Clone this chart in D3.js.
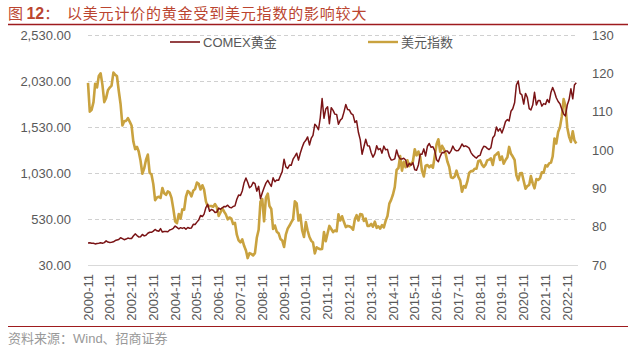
<!DOCTYPE html>
<html><head><meta charset="utf-8">
<script src="https://cdn.jsdelivr.net/npm/d3@7"></script>
<style>
html,body{margin:0;padding:0;background:#fff;}
svg{display:block;}
text{font-family:"Liberation Sans",Arial,"Noto Sans CJK SC",sans-serif;}
</style></head>
<body><svg id="c" width="640" height="346"></svg>
<script>
// ---- data (monthly, starting 2000-11) ----
const startYear = 2000, startMonth = 11;
const seriesNames = ["COMEX黄金", "美元指数"];
const goldValues = [
  270, 272,
  266, 267, 259, 264, 267, 271, 266, 273, 292, 279, 275, 278,
  282, 296, 302, 308, 326, 316, 305, 312, 323, 317, 318, 345,
  368, 350, 335, 338, 362, 346, 354, 375, 386, 385, 398, 416,
  402, 397, 425, 388, 394, 395, 391, 410, 417, 429, 453, 438,
  423, 436, 428, 436, 418, 437, 430, 433, 472, 470, 496, 518,
  568, 557, 583, 655, 690, 614, 633, 625, 600, 605, 648, 636,
  652, 667, 664, 680, 658, 651, 666, 673, 745, 790, 785, 834,
  925, 975, 930, 870, 886, 928, 915, 833, 885, 750, 815, 870,
  920, 950, 918, 885, 978, 935, 955, 950, 1000, 1045, 1180, 1097,
  1080, 1117, 1114, 1180, 1210, 1245, 1170, 1248, 1310, 1360, 1385, 1422,
  1335, 1410, 1440, 1560, 1537, 1500, 1630, 1840, 1625, 1725, 1750, 1566,
  1740, 1710, 1670, 1665, 1560, 1605, 1622, 1692, 1775, 1720, 1714, 1675,
  1662, 1580, 1597, 1470, 1393, 1234, 1312, 1396, 1327, 1323, 1250, 1202,
  1240, 1326, 1284, 1296, 1246, 1322, 1282, 1287, 1210, 1172, 1175, 1184,
  1280, 1213, 1183, 1183, 1190, 1172, 1095, 1135, 1115, 1142, 1065, 1061,
  1117, 1235, 1235, 1292, 1215, 1321, 1351, 1309, 1316, 1273, 1174, 1152,
  1211, 1253, 1250, 1269, 1269, 1242, 1270, 1322, 1283, 1271, 1275, 1303,
  1345, 1318, 1325, 1315, 1300, 1252, 1224, 1206, 1192, 1215, 1222, 1282,
  1321, 1316, 1298, 1285, 1305, 1413, 1437, 1529, 1485, 1513, 1464, 1519,
  1589, 1610, 1596, 1701, 1728, 1793, 1986, 2030, 1895, 1880, 1780, 1895,
  1850, 1729, 1715, 1768, 1907, 1770, 1817, 1818, 1757, 1784, 1776, 1829,
  1796, 1909, 1960, 1911, 1848, 1807, 1782, 1726, 1672, 1650, 1768, 1826,
  1945, 1836, 1986, 2010
];
const dxyValues = [
  117.5, 110.0,
  110.5, 112.5, 117.3, 116.3, 119.3, 120.0, 117.0, 112.5, 113.6, 115.6, 116.3, 116.8,
  120.2, 119.6, 119.3, 115.4, 112.0, 106.4, 107.5, 107.6, 108.3, 107.4, 106.4, 102.2,
  100.2, 100.8, 99.6, 97.2, 93.8, 95.2, 97.4, 98.8, 94.0, 93.7, 91.1, 86.9,
  87.6, 87.8, 87.5, 90.1, 88.7, 88.3, 89.2, 88.9, 87.5, 84.7, 81.4, 80.9,
  83.3, 82.1, 84.5, 84.4, 87.8, 89.3, 88.9, 87.9, 89.4, 89.8, 91.5, 91.2,
  89.7, 90.8, 89.7, 86.6, 85.3, 85.4, 85.4, 85.2, 85.9, 85.1, 82.8, 83.7,
  84.8, 83.9, 83.2, 81.9, 82.4, 82.1, 80.7, 81.0, 77.9, 76.4, 75.9, 76.7,
  75.0, 73.8, 71.8, 73.1, 72.9, 72.5, 73.1, 77.1, 79.2, 86.5, 87.2, 81.4,
  87.6, 88.6, 85.4, 84.6, 79.4, 80.3, 78.7, 78.3, 76.8, 76.4, 74.7, 77.9,
  79.5, 80.3, 81.1, 81.9, 86.6, 86.1, 81.6, 83.1, 79.0, 77.3, 81.2, 79.0,
  77.3, 76.3, 75.9, 73.0, 74.6, 74.3, 74.1, 74.2, 78.6, 76.2, 78.3, 80.2,
  79.4, 78.6, 79.0, 78.8, 83.2, 81.6, 82.7, 81.2, 79.9, 80.2, 80.1, 79.8,
  79.2, 82.0, 83.0, 81.6, 83.3, 83.2, 81.5, 82.1, 80.2, 80.2, 80.7, 80.0,
  81.3, 79.7, 80.1, 79.5, 80.4, 79.8, 81.5, 82.8, 86.0, 87.0, 88.4, 90.3,
  94.8, 95.3, 98.4, 94.6, 96.9, 95.5, 97.3, 95.8, 96.4, 97.0, 100.2, 98.6,
  99.6, 98.2, 94.6, 93.1, 95.9, 96.1, 95.5, 96.0, 95.4, 98.4, 101.5, 102.8,
  99.5, 101.1, 100.3, 99.1, 97.0, 95.6, 92.9, 92.7, 93.1, 94.6, 93.0, 92.1,
  89.1, 90.6, 90.2, 91.8, 94.0, 94.5, 94.5, 95.1, 95.1, 97.1, 97.3, 96.2,
  95.6, 96.2, 97.3, 97.5, 97.8, 96.1, 98.5, 98.9, 99.4, 97.4, 98.3, 96.4,
  97.4, 98.1, 100.8, 99.0, 98.3, 97.4, 93.4, 92.1, 93.9, 94.0, 91.9, 89.9,
  90.6, 90.9, 93.2, 91.3, 90.0, 92.4, 92.2, 92.6, 94.2, 94.1, 96.0, 95.7,
  96.5, 96.7, 98.3, 103.0, 101.7, 104.7, 105.9, 108.7, 113.3, 111.5, 105.9, 103.5,
  102.1, 104.9, 102.5, 101.7
];
const xTickLabels = ["2000-11","2001-11","2002-11","2003-11","2004-11","2005-11","2006-11","2007-11","2008-11","2009-11","2010-11","2011-11","2012-11","2013-11","2014-11","2015-11","2016-11","2017-11","2018-11","2019-11","2020-11","2021-11","2022-11"];
const leftTicks = [30, 530, 1030, 1530, 2030, 2530];
const rightTicks = [70, 80, 90, 100, 110, 120, 130];

// ---- layout ----
const svg = d3.select("#c");
const L = 88, R = 578, T = 35, B = 265;
const goldColor = "#7a1416", dxyColor = "#c9a23f", titleColor = "#bb4530";

const dates = goldValues.map((_, i) => new Date(startYear, startMonth - 1 + i, 1));
const x = d3.scaleTime()
  .domain([new Date(2000, 10, 1), new Date(2023, 3, 30)])
  .range([L, R]);
const yL = d3.scaleLinear().domain([30, 2530]).range([B, T]);
const yR = d3.scaleLinear().domain([70, 130]).range([B, T]);

svg.append("rect").attr("width", 640).attr("height", 346).attr("fill", "#fff");

// title
const title = svg.append("text").attr("x", 8).attr("y", 19)
  .attr("fill", titleColor).style("font-size", "15px");
title.append("tspan").style("font-family", "'Noto Sans CJK SC'").text("图 ");
title.append("tspan").style("font-weight", "bold").style("font-size", "16px").text("12");
title.append("tspan").style("font-family", "'Noto Sans CJK SC'").text("：");
title.append("tspan").attr("x", 67).style("font-family", "'Noto Sans CJK SC'")
  .style("letter-spacing", "0.8px").text("以美元计价的黄金受到美元指数的影响较大");
svg.append("line").attr("x1", 8).attr("x2", 628).attr("y1", 24.5).attr("y2", 24.5)
  .attr("stroke", "#9e1b1e").attr("stroke-width", 1.5);

// gridlines
const grid = svg.append("g");
leftTicks.forEach(v => {
  grid.append("line").attr("x1", L).attr("x2", R)
    .attr("y1", Math.round(yL(v)) + 0.5).attr("y2", Math.round(yL(v)) + 0.5)
    .attr("stroke", v === 30 ? "#d9d9d9" : "#d0d0d0")
    .attr("stroke-dasharray", v === 30 ? null : "4,3");
});

// axes (labels only)
const axL = svg.append("g").attr("transform", `translate(${L},0)`)
  .call(d3.axisLeft(yL).tickValues(leftTicks).tickSize(0).tickPadding(17)
    .tickFormat(d3.format(",.2f")));
const axR = svg.append("g").attr("transform", `translate(${R},0)`)
  .call(d3.axisRight(yR).tickValues(rightTicks).tickSize(0).tickPadding(14));
[axL, axR].forEach(a => {
  a.select(".domain").remove();
  a.selectAll("text").attr("fill", "#595959").style("font-size", "13px")
    .style("font-family", "'Liberation Sans', Arial, sans-serif");
});

// x labels
const xg = svg.append("g");
xTickLabels.forEach(lbl => {
  const [yy, mm] = lbl.split("-").map(Number);
  const px = x(new Date(yy, mm - 1, 1));
  xg.append("text").attr("transform", `translate(${px},274) rotate(-90)`)
    .attr("text-anchor", "end").attr("dy", "0.35em")
    .attr("fill", "#595959").style("font-size", "13px").text(lbl);
});

// lines
const lineL = d3.line().x((d, i) => x(dates[i])).y(d => yL(d));
const lineR = d3.line().x((d, i) => x(dates[i])).y(d => yR(d));
svg.append("path").datum(dxyValues).attr("d", lineR)
  .attr("fill", "none").attr("stroke", dxyColor).attr("stroke-width", 2.6)
  .attr("stroke-linejoin", "round");
svg.append("path").datum(goldValues).attr("d", lineL)
  .attr("fill", "none").attr("stroke", goldColor).attr("stroke-width", 1.5)
  .attr("stroke-linejoin", "round");

// legend
const leg = [{x: 170, c: goldColor, w: 1.6}, {x: 368, c: dxyColor, w: 2.4}];
leg.forEach((d, i) => {
  svg.append("line").attr("x1", d.x).attr("x2", d.x + 30).attr("y1", 42).attr("y2", 42)
    .attr("stroke", d.c).attr("stroke-width", d.w);
  svg.append("text").attr("x", d.x + 33).attr("y", 46.5).attr("fill", "#595959")
    .style("font-size", "13px").text(seriesNames[i]);
});

// bottom rule & source
svg.append("line").attr("x1", 8).attr("x2", 628).attr("y1", 326.5).attr("y2", 326.5)
  .attr("stroke", "#9e1b1e").attr("stroke-width", 1.2);
svg.append("text").attr("x", 8).attr("y", 343).attr("fill", "#999999")
  .style("font-size", "13px").text("资料来源：Wind、招商证券");
</script></body></html>
